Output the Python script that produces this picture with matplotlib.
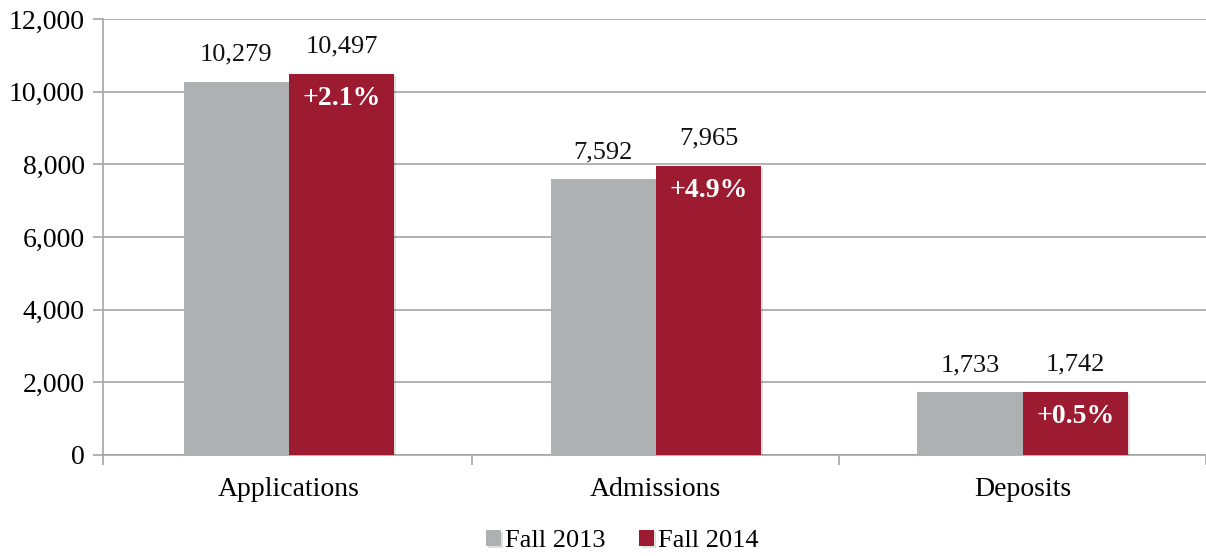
import matplotlib
matplotlib.use("Agg")
import matplotlib.pyplot as plt
import matplotlib.patheffects as pe
import numpy as np

categories = ["Applications", "Admissions", "Deposits"]
fall_2013 = [10279, 7592, 1733]
fall_2014 = [10497, 7965, 1742]
pct_change = ["+2.1%", "+4.9%", "+0.5%"]
yticks = [0, 2000, 4000, 6000, 8000, 10000, 12000]

plt.rcParams['font.family'] = ['Liberation Serif', 'DejaVu Serif']

GRAY = "#AEB1B1"
RED = "#9C1B31"
AXC = "#A6A6A6"

fig = plt.figure(figsize=(12.06, 5.56), dpi=100)
ax = fig.add_axes([103/1206, 1-455/556, 1-103/1206, (455-19)/556])

x = np.arange(len(categories))
w = 0.287
shadow = [pe.SimplePatchShadow(offset=(1.5, -1.5), shadow_rgbFace="black", alpha=0.12), pe.Normal()]
b1 = ax.bar(x - w/2, fall_2013, w, color=GRAY, label="Fall 2013", zorder=3)
b2 = ax.bar(x + w/2, fall_2014, w, color=RED, label="Fall 2014", zorder=3)
for r in list(b1) + list(b2):
    r.set_path_effects(shadow)

for rect, v in zip(b1, fall_2013):
    ax.annotate(f"{v:,}", (rect.get_x() + rect.get_width()/2, v), xytext=(0, 11.5),
                textcoords="offset points", ha="center", va="bottom", fontsize=19, color="#111111")
for rect, v, p in zip(b2, fall_2014, pct_change):
    ax.annotate(f"{v:,}", (rect.get_x() + rect.get_width()/2, v), xytext=(0, 11.5),
                textcoords="offset points", ha="center", va="bottom", fontsize=19, color="#111111")
    ax.annotate(p, (rect.get_x() + rect.get_width()/2, v), xytext=(0, -18),
                textcoords="offset points", ha="center", va="center", fontsize=20,
                color="white", fontweight="bold", zorder=5)

xl, xr = -0.507, 2.475
ax.set_xlim(xl, xr)
ax.set_ylim(0, 12000)
ax.set_yticks(yticks)
ax.set_yticklabels([f"{t:,}" for t in yticks], fontsize=20)
ax.yaxis.grid(True, color=AXC, linewidth=1.2, zorder=0)
ax.set_axisbelow(True)

ax.set_xticks(x)
ax.set_xticklabels(categories, fontsize=20)
ax.tick_params(axis='x', length=0, pad=16)
ax.set_xticks([xl, 0.5, 1.5, 2.5], minor=True)
ax.tick_params(axis='x', which='minor', length=7, color=AXC, width=1.2)
ax.tick_params(axis='y', length=7, color=AXC, width=1.2, pad=6)

for s in ["top", "right"]:
    ax.spines[s].set_visible(False)
for s in ["left", "bottom"]:
    ax.spines[s].set_color(AXC)
    ax.spines[s].set_linewidth(1.2)

fig.legend(handles=[b1, b2], labels=["Fall 2013", "Fall 2014"], loc="lower center",
           bbox_to_anchor=(0.5 + 0.016, -0.036), ncol=2, frameon=False, fontsize=19,
           handlelength=0.55, handleheight=0.55, handletextpad=0.15, columnspacing=1.3)

fig.savefig("out.png", dpi=100)
